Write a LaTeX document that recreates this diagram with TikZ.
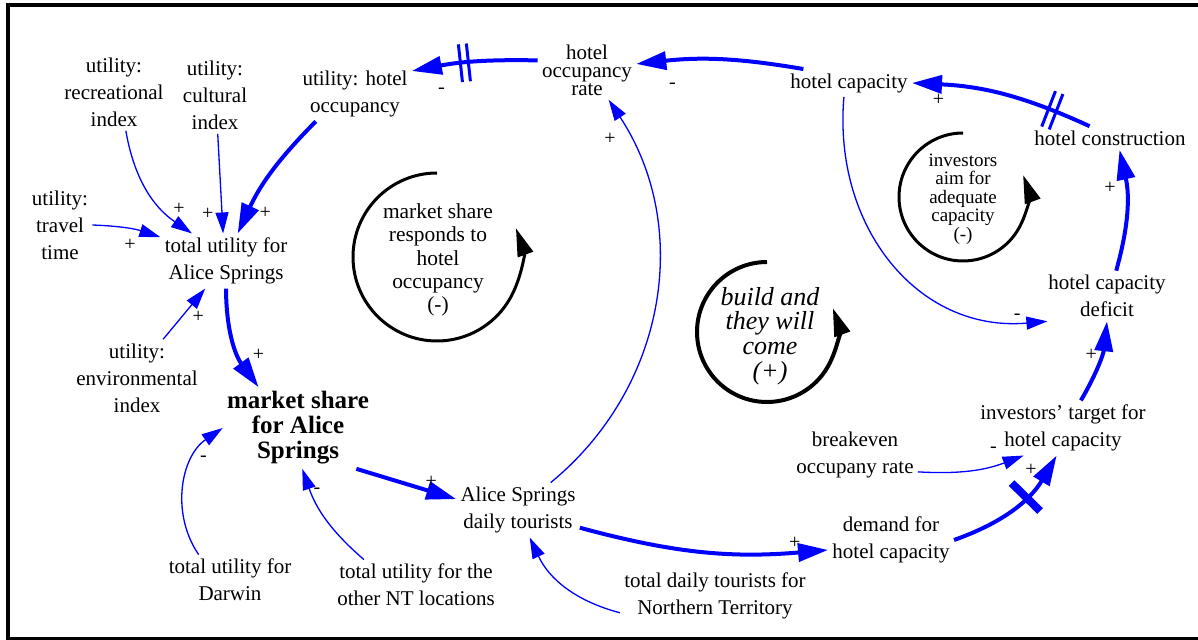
\documentclass[tikz,border=0pt]{standalone}
\usepackage{fontspec}
\setmainfont{Liberation Serif}
\usetikzlibrary{arrows.meta,decorations.markings}

\begin{document}
\begin{tikzpicture}[x=0.5pt,y=0.5pt,
   var/.style={align=center,inner sep=2pt,font=\fontsize{10.5}{13.5}\selectfont},
   pol/.style={inner sep=1pt,text=black,font=\fontsize{10}{12}\selectfont},
   thinlink/.style={blue,line width=0.65pt,-{Triangle[length=10.5pt,width=6.5pt]}},
   thicklink/.style={blue,line width=2pt,-{Triangle[length=15pt,width=9pt]}},
   loopline/.style={draw=black,line width=1.5pt,-{Triangle[length=14pt,width=8pt]}},
   delaytwo/.style={postaction={decorate},decoration={markings,mark=at position #1 with
      {\draw[-,blue,line width=1.5pt] (-4,-19) -- (-4,19) (4,-19) -- (4,19);}}},
   delayone/.style={postaction={decorate},decoration={markings,mark=at position #1 with
      {\draw[-,blue,line width=4pt] (0,-20) -- (0,20);}}}]
   \useasboundingbox (0,0) rectangle (1198,-640);
   \draw[line width=2pt] (8,-5.3) rectangle (1210,-639);

   \node[var] (recidx)       at (114,-92)  {utility:\\recreational\\index};
   \node[var] (culidx)       at (215,-95)  {utility:\\cultural\\index};
   \node[var] (utilhotel)    at (355,-94)  {utility: hotel\\occupancy};
   \node[var] (travel)       at (60,-225)  {utility:\\travel\\time};
   \node[var] (totalAS)      at (226,-261) {total utility for\\Alice Springs};
   \node[var] (envidx)       at (137,-378) {utility:\\environmental\\index};
   \node[var,font=\fontsize{12.5}{12.5}\selectfont\bfseries]
              (share)        at (298,-428) {market share\\for Alice\\Springs};
   \node[var] (darwin)       at (230,-580) {total utility for\\Darwin};
   \node[var] (otherNT)      at (416,-585) {total utility for the\\other NT locations};
   \node[var] (tourists)     at (518,-510) {Alice Springs\\daily tourists};
   \node[var] (totalNT)      at (715,-596) {total daily tourists for\\Northern Territory};
   \node[var] (demand)       at (891,-540) {demand for\\hotel capacity};
   \node[var] (breakeven)    at (855,-455) {breakeven\\occupany rate};
   \node[var] (target)       at (1063,-428) {investors' target for\\hotel capacity};
   \node[var] (deficit)      at (1107,-296) {hotel capacity\\deficit};
   \node[var] (construction) at (1110,-138) {hotel construction};
   \node[var] (capacity)     at (849,-83)  {hotel capacity};
   \node[var,font=\fontsize{10.5}{9}\selectfont]
              (occrate)      at (587,-70)  {hotel\\occupancy\\rate};

   \node[align=center,font=\fontsize{10.7}{11.7}\selectfont] (loopA) at (438,-260)
      {market share\\responds to\\hotel\\occupancy\\(-)};
   \node[align=center,font=\itshape\fontsize{13}{12.3}\selectfont] (loopB) at (770,-336)
      {build and\\they will\\come\hspace*{15pt}\\(+)};
   \node[align=center,font=\fontsize{9.5}{9.25}\selectfont] (loopC) at (963,-199)
      {investors\\aim for\\adequate\\capacity\\(-)};

   \draw[loopline] (437,-173) arc[start angle=90,end angle=380,radius=84];
   \draw[loopline,line width=2pt] (767,-262) arc[start angle=90,end angle=380,radius=70];
   \draw[loopline] (963,-133) arc[start angle=90,end angle=380,radius=64];

   \path[thinlink]
    (recidx.-73)     edge[bend right=23] node[pol,pos=.8,above right]   {+} (totalAS.141)
    (culidx.-86)     edge                node[pol,pos=.8,left=3pt]      {+} (totalAS.96)
    (travel.east)    edge[bend left=8]   node[pol,pos=.55,below=4pt]    {+} (totalAS.160)
    (envidx.56)      edge                node[pol,pos=.45,right=4pt]    {+} (totalAS.233)
    (darwin.141)     edge[bend left=45]  node[pol,pos=.75,below right]  {-} (share.west)
    (otherNT.154)    edge[bend left=15]  node[pol,pos=.8,right]         {-} (share.-84)
    (totalNT.190)    edge[bend left=25]                                     (tourists.-67)
    (tourists.40)    edge[bend right=42] node[pol,pos=.9,left=6pt]      {+} (occrate.-54)
    (capacity.-110)  edge[out=-95,in=185,looseness=1.1]
                                         node[pol,pos=.92,above]        {-} (deficit.203)
    (breakeven.-15)  edge[bend right=12] node[pol,pos=.72,above=5pt]    {-} (target.215);

   \path[thicklink]
    (utilhotel.215)  edge[bend right=10] node[pol,pos=.85,right=4pt]    {+} (totalAS.67)
    (totalAS.south)  edge[bend right=18] node[pol,pos=.65,right=5pt]    {+} (share.134)
    (share.-35)      edge                node[pol,pos=.75,above]        {+} (tourists.170)
    (tourists.-16)   edge[bend right=10] node[pol,pos=.88,above]        {+} (demand.189)
    (demand.east)    edge[bend right=20,delayone=.62]
                                         node[pol,pos=.8,above left]    {+} (target.257)
    (target.57)      edge[bend right=12] node[pol,pos=.6,left]          {+} (deficit.south)
    (deficit.70)     edge[bend right=14] node[pol,pos=.7,left=3pt]      {+} (construction.-51)
    (construction.150) edge[bend right=11,delaytwo=.22]
                                         node[pol,pos=.87,below=3pt]    {+} (capacity.east)
    (capacity.163)   edge[bend right=8]  node[pol,pos=.8,below=9pt]     {-} (occrate.7)
    (occrate.169)    edge[bend right=6,delaytwo=.58]
                                         node[pol,pos=.78,below=9pt]    {-} (utilhotel.22);
\end{tikzpicture}
\end{document}
